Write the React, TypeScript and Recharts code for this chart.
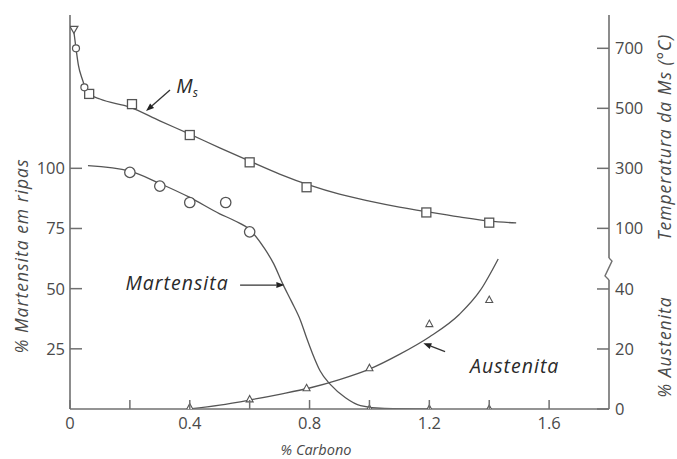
import React from 'react'
import {
  ComposedChart,
  Line,
  Scatter,
  XAxis,
  YAxis,
  ReferenceLine,
  ReferenceDot,
} from 'recharts'

// % carbono na abscissa; cada curva tem os seus próprios pontos
const msCurveC = [0.013, 0.02, 0.028, 0.04, 0.05, 0.07, 0.1, 0.2, 0.3, 0.4, 0.5, 0.6, 0.7, 0.8, 0.9, 1.0, 1.1, 1.2, 1.3, 1.4, 1.49]
const msCurveT = [755, 700, 644, 600, 572, 545, 531, 504, 458, 414, 368, 324, 281, 244, 214, 191, 171, 154, 138, 124, 118]

const msSquareC = [0.064, 0.207, 0.4, 0.6, 0.79, 1.19, 1.4]
const msSquareT = [548, 514, 411, 320, 237, 153, 119]
const msCircleC = [0.02, 0.048]
const msCircleT = [700, 570]
const msTriC = [0.013]
const msTriT = [763]

const martCurveC = [0.06, 0.2, 0.3, 0.4, 0.5, 0.55, 0.6, 0.65, 0.68, 0.71, 0.74, 0.77, 0.79, 0.81, 0.835, 0.87, 0.92, 0.97, 1.05, 1.2]
const martCurveP = [101.1, 98.8, 93.7, 87.9, 81.1, 78.2, 74.5, 66.6, 60.4, 52.1, 44.6, 36.7, 29.6, 23, 15.9, 10.1, 4.7, 1.4, 0.2, 0]
const martCircleC = [0.2, 0.3, 0.4, 0.52, 0.6]
const martCircleP = [98.3, 92.6, 85.8, 85.8, 73.6]
const martZeroC = [1.0, 1.2, 1.4]
const martZeroP = [0, 0, 0]

const ausCurveC = [0.4, 0.5, 0.6, 0.7, 0.8, 0.9, 1.0, 1.1, 1.2, 1.3, 1.37, 1.43]
const ausCurveA = [0, 1.3, 3, 4.9, 7, 9.8, 13.3, 18.2, 24, 31.5, 39.5, 50]
const ausTriC = [0.4, 0.6, 0.79, 1.0, 1.2, 1.4]
const ausTriA = [0.5, 3.2, 6.9, 13.6, 28.3, 36.3]

const carbonTicks = [0, 0.2, 0.4, 0.6, 0.8, 1.0, 1.2, 1.4, 1.6]
const carbonLabels = [0, 0.4, 0.8, 1.2, 1.6]
const topTicks = [0.2, 0.4, 0.6, 0.8, 1.0, 1.2, 1.4, 1.6]
const martTicks = [25, 50, 75, 100]
const tempTicks = [100, 300, 500, 700]
const ausTicks = [0, 20, 40]

const zip = (xs: number[], ys: number[]) => xs.map((c, i) => ({ c, v: ys[i] }))

const INK = '#555'
const AXIS = '#707070'
const TXT = '#4a4a4a'
const FONT = '"Open Sans", sans-serif'

const Square = (p: any) => (
  <rect x={p.cx - 4.5} y={p.cy - 4.5} width={9} height={9} fill="#fff" stroke={INK} strokeWidth={1.3} />
)
const Circle = (p: any) => <circle cx={p.cx} cy={p.cy} r={5.2} fill="#fff" stroke={INK} strokeWidth={1.3} />
const SmallCircle = (p: any) => <circle cx={p.cx} cy={p.cy} r={3.5} fill="#fff" stroke={INK} strokeWidth={1.2} />
const TriUp = (p: any) => (
  <path
    d={`M${p.cx},${p.cy - 4} L${p.cx + 3.5},${p.cy + 2.5} L${p.cx - 3.5},${p.cy + 2.5} Z`}
    fill="#fff"
    stroke={INK}
    strokeWidth={1.1}
  />
)
const TriDown = (p: any) => (
  <path
    d={`M${p.cx - 4},${p.cy - 3} L${p.cx + 4},${p.cy - 3} L${p.cx},${p.cy + 4} Z`}
    fill="#fff"
    stroke={INK}
    strokeWidth={1.2}
  />
)

const Arrow = (p: any) => {
  const { x1, y1, x2, y2 } = p
  const a = Math.atan2(y2 - y1, x2 - x1)
  const L = 8
  const W = 3
  const bx = x2 - L * Math.cos(a)
  const by = y2 - L * Math.sin(a)
  const nx = -Math.sin(a) * W
  const ny = Math.cos(a) * W
  return (
    <g>
      <line x1={x1} y1={y1} x2={bx} y2={by} stroke="#333" strokeWidth={1.3} />
      <path d={`M${x2},${y2} L${bx + nx},${by + ny} L${bx - nx},${by - ny} Z`} fill="#222" />
    </g>
  )
}

const AxisSeg = (p: any) => <line x1={p.x1} y1={p.y1} x2={p.x2} y2={p.y2} stroke={AXIS} strokeWidth={1.6} />

// quebra da escala no eixo direito
const Break = (p: any) => {
  const x = p.x1
  const yb = Math.max(p.y1, p.y2)
  const yt = Math.min(p.y1, p.y2)
  return (
    <path
      d={`M${x},${yt} L${x + 3},${yt + 3} L${x - 4},${yb - 4} L${x},${yb}`}
      fill="none"
      stroke={AXIS}
      strokeWidth={1.4}
    />
  )
}

const tickText = { fill: TXT, fontSize: 16.5, fontFamily: FONT }

const BottomTick = (p: any) => {
  const v = p.payload.value
  return (
    <g>
      <line x1={p.x} x2={p.x} y1={p.y} y2={p.y - 9} stroke={AXIS} strokeWidth={1.5} />
      {carbonLabels.includes(v) && (
        <text x={p.x} y={p.y + 20} textAnchor="middle" {...tickText}>
          {v}
        </text>
      )}
    </g>
  )
}

const TopTick = (p: any) => (
  <line x1={p.x} x2={p.x} y1={p.y} y2={p.y + 9} stroke={AXIS} strokeWidth={1.5} />
)

const LeftTick = (p: any) => (
  <g>
    <line x1={p.x} x2={p.x + 12} y1={p.y} y2={p.y} stroke={AXIS} strokeWidth={1.5} />
    <text x={p.x - 5} y={p.y + 6} textAnchor="end" {...tickText}>
      {p.payload.value}
    </text>
  </g>
)

// os dois eixos da direita ficam lado a lado; shift devolve o de fora à linha da moldura
const rightTick = (shift: number) => (p: any) => {
  const x = p.x - shift
  return (
    <g>
      <line x1={x - 12} x2={x} y1={p.y} y2={p.y} stroke={AXIS} strokeWidth={1.5} />
      <text x={x + 6} y={p.y + 6} textAnchor="start" {...tickText}>
        {p.payload.value}
      </text>
    </g>
  )
}

const titleStyle = { fill: TXT, fontSize: 17.5, fontFamily: FONT, fontStyle: 'italic' as const, letterSpacing: 1 }

const VText = ({ x, y, children }: { x: number; y: number; children: React.ReactNode }) => (
  <text x={x} y={y} transform={`rotate(-90, ${x}, ${y})`} textAnchor="middle" dominantBaseline="central" {...titleStyle}>
    {children}
  </text>
)

const leftTitle = () => <VText x={21} y={256}>% Martensita em ripas</VText>
const rightTitles = () => (
  <g>
    <VText x={664} y={137}>Temperatura da Ms (°C)</VText>
    <VText x={664} y={347}>% Austenita</VText>
  </g>
)
const bottomTitle = () => (
  <text x={316} y={455} textAnchor="middle" {...titleStyle} fontSize={14.5} letterSpacing={0}>
    % Carbono
  </text>
)

const noteStyle = { fill: '#2a2a2a', fontSize: 19.5, fontFamily: FONT, fontStyle: 'italic' as const, letterSpacing: 1 }

export default function App() {
  return (
    <div style={{ position: 'absolute', left: 0, top: 0, width: 677, height: 459, background: '#fff' }}>
      <ComposedChart width={677} height={459} margin={{ top: 15, right: 0, bottom: 0, left: 0 }}>
        <XAxis
          xAxisId="bottom"
          dataKey="c"
          type="number"
          domain={[0, 1.8]}
          allowDataOverflow
          ticks={carbonTicks}
          tick={BottomTick}
          tickLine={false}
          tickSize={0}
          tickMargin={0}
          height={50}
          axisLine={{ stroke: AXIS, strokeWidth: 1.6 }}
          label={bottomTitle}
        />
        <XAxis
          xAxisId="top"
          orientation="top"
          dataKey="c"
          type="number"
          domain={[0, 1.8]}
          allowDataOverflow
          ticks={topTicks}
          tick={TopTick}
          tickLine={false}
          tickSize={0}
          tickMargin={0}
          height={0}
          axisLine={{ stroke: AXIS, strokeWidth: 1.6 }}
        />
        <YAxis
          yAxisId="mart"
          dataKey="v"
          type="number"
          domain={[0, 163.7]}
          allowDataOverflow
          ticks={martTicks}
          tick={LeftTick}
          tickLine={false}
          tickSize={0}
          tickMargin={0}
          width={70}
          axisLine={{ stroke: AXIS, strokeWidth: 1.6 }}
          label={leftTitle}
        />
        <YAxis
          yAxisId="aus"
          orientation="right"
          dataKey="v"
          type="number"
          domain={[0, 131.3]}
          allowDataOverflow
          ticks={ausTicks}
          tick={rightTick(0)}
          tickLine={false}
          tickSize={0}
          tickMargin={0}
          width={1}
          axisLine={false}
        />
        <YAxis
          yAxisId="temp"
          orientation="right"
          dataKey="v"
          type="number"
          domain={[-502, 811]}
          allowDataOverflow
          ticks={tempTicks}
          tick={rightTick(1)}
          tickLine={false}
          tickSize={0}
          tickMargin={0}
          width={67}
          axisLine={false}
          label={rightTitles}
        />

        {/* eixo direito interrompido */}
        <ReferenceLine xAxisId="bottom" yAxisId="aus" segment={[{ x: 1.8, y: 50.3 }, { x: 1.8, y: 131.3 }]} shape={AxisSeg} ifOverflow="visible" />
        <ReferenceLine xAxisId="bottom" yAxisId="aus" segment={[{ x: 1.8, y: 0 }, { x: 1.8, y: 43 }]} shape={AxisSeg} ifOverflow="visible" />
        <ReferenceLine xAxisId="bottom" yAxisId="aus" segment={[{ x: 1.8, y: 43 }, { x: 1.8, y: 50.3 }]} shape={Break} ifOverflow="visible" />

        <Line data={zip(msCurveC, msCurveT)} xAxisId="bottom" yAxisId="temp" dataKey="v" type="monotone" dot={false} stroke={INK} strokeWidth={1.3} isAnimationActive={false} />
        <Line data={zip(martCurveC, martCurveP)} xAxisId="bottom" yAxisId="mart" dataKey="v" type="monotone" dot={false} stroke={INK} strokeWidth={1.3} isAnimationActive={false} />
        <Line data={zip(ausCurveC, ausCurveA)} xAxisId="bottom" yAxisId="aus" dataKey="v" type="monotone" dot={false} stroke={INK} strokeWidth={1.3} isAnimationActive={false} />

        <Scatter data={zip(msSquareC, msSquareT)} xAxisId="bottom" yAxisId="temp" shape={Square} isAnimationActive={false} />
        <Scatter data={zip(msCircleC, msCircleT)} xAxisId="bottom" yAxisId="temp" shape={SmallCircle} isAnimationActive={false} />
        <Scatter data={zip(msTriC, msTriT)} xAxisId="bottom" yAxisId="temp" shape={TriDown} isAnimationActive={false} />
        <Scatter data={zip(martCircleC, martCircleP)} xAxisId="bottom" yAxisId="mart" shape={Circle} isAnimationActive={false} />
        <Scatter data={zip(martZeroC, martZeroP)} xAxisId="bottom" yAxisId="mart" shape={TriUp} isAnimationActive={false} />
        <Scatter data={zip(ausTriC, ausTriA)} xAxisId="bottom" yAxisId="aus" shape={TriUp} isAnimationActive={false} />

        {/* setas e nomes das curvas */}
        <ReferenceLine xAxisId="bottom" yAxisId="temp" segment={[{ x: 0.334, y: 561 }, { x: 0.254, y: 491 }]} shape={Arrow} ifOverflow="visible" />
        <ReferenceLine xAxisId="bottom" yAxisId="mart" segment={[{ x: 0.568, y: 51.5 }, { x: 0.716, y: 51.5 }]} shape={Arrow} ifOverflow="visible" />
        <ReferenceLine xAxisId="bottom" yAxisId="aus" segment={[{ x: 1.2525, y: 19.1 }, { x: 1.18, y: 21.9 }]} shape={Arrow} ifOverflow="visible" />

        <ReferenceDot
          xAxisId="bottom"
          yAxisId="temp"
          x={0.355}
          y={551}
          r={0}
          shape={(p: any) => (
            <text x={p.cx} y={p.cy} {...noteStyle} letterSpacing={0}>
              M<tspan fontSize={12} dy={4}>s</tspan>
            </text>
          )}
        />
        <ReferenceDot
          xAxisId="bottom"
          yAxisId="mart"
          x={0.53}
          y={49.6}
          r={0}
          shape={(p: any) => (
            <text x={p.cx} y={p.cy} textAnchor="end" {...noteStyle}>
              Martensita
            </text>
          )}
        />
        <ReferenceDot
          xAxisId="bottom"
          yAxisId="aus"
          x={1.336}
          y={12}
          r={0}
          shape={(p: any) => (
            <text x={p.cx} y={p.cy} {...noteStyle}>
              Austenita
            </text>
          )}
        />
      </ComposedChart>
    </div>
  )
}
